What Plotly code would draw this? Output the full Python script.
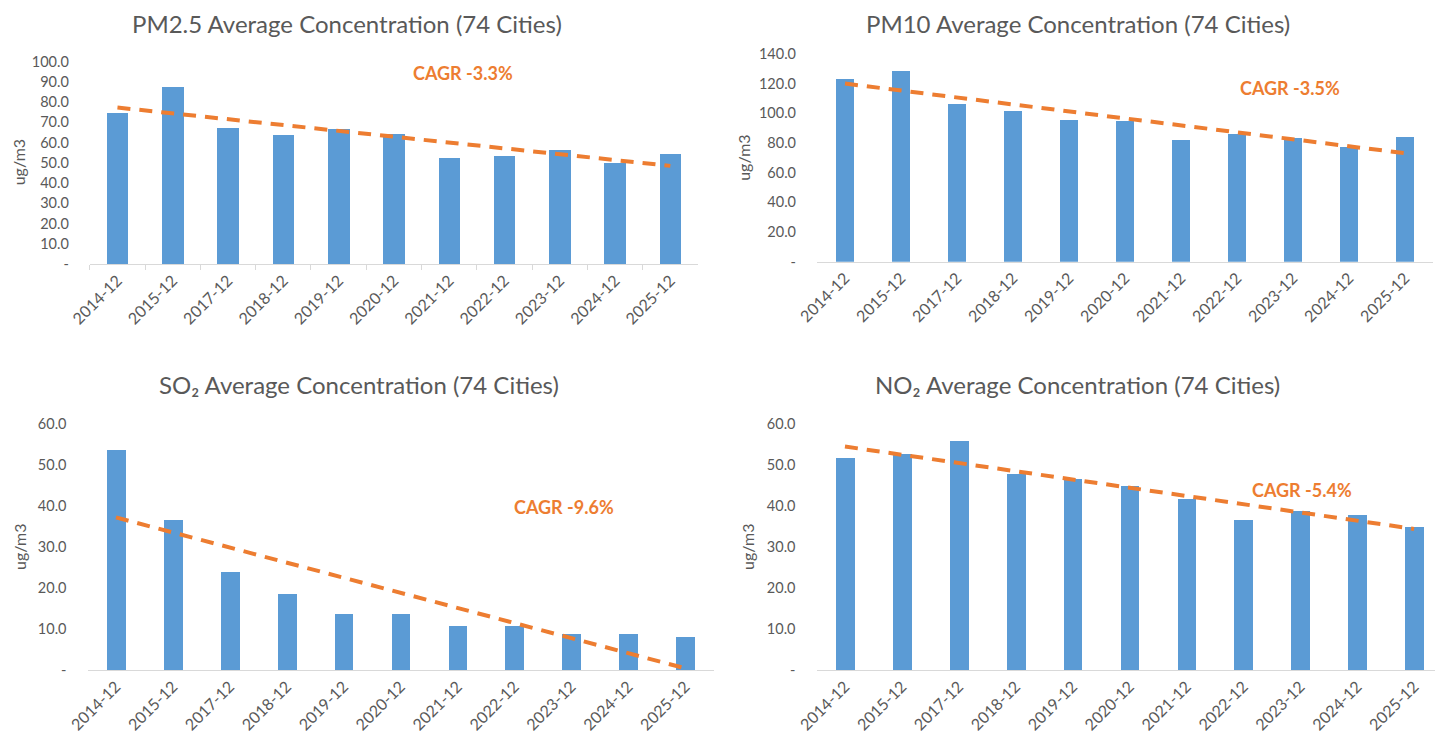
import numpy as np
import plotly.graph_objects as go

categories = ["2014-12", "2015-12", "2017-12", "2018-12", "2019-12", "2020-12",
              "2021-12", "2022-12", "2023-12", "2024-12", "2025-12"]

pm25 = [74.6, 87.6, 67.4, 63.8, 66.7, 64.6, 52.4, 53.7, 56.7, 50.2, 54.4]
pm10 = [123.0, 128.8, 106.5, 101.6, 95.8, 94.7, 81.9, 86.0, 83.1, 77.3, 83.9]
so2 = [53.7, 36.7, 23.9, 18.65, 13.6, 13.6, 10.8, 10.8, 8.7, 8.7, 7.95]
no2 = [51.6, 52.6, 55.9, 47.7, 46.6, 44.8, 41.7, 36.7, 38.8, 37.7, 34.95]

titles = ["PM2.5 Average Concentration (74 Cities)",
          "PM10 Average Concentration (74 Cities)",
          "SO₂ Average Concentration (74 Cities)",
          "NO₂ Average Concentration (74 Cities)"]
cagr_labels = ["CAGR -3.3%", "CAGR -3.5%", "CAGR -9.6%", "CAGR -5.4%"]
y_max = [100, 140, 60, 60]
y_step = [10, 20, 10, 10]
unit = "ug/m3"

OFF = 8  # page body margin
W, H = 1443 - OFF, 741 - OFF
BAR = "#5B9BD5"
TREND = "#ED7D31"
GREY = "#595959"
FONT = "Lato"


def px(x):
    return (x - OFF) / W


def py(y):
    return 1 - (y - OFF) / H


# layout geometry (screen pixels)
panels = [
    dict(x0=89.8, x1=698.0, ytop=61.7, ybot=264.0, bw=0.39, title=(347, 22), cagr=(463, 73), ytitle=13),
    dict(x0=817.0, x1=1433.0, ytop=54.0, ybot=261.7, bw=0.33, title=(1078, 15), cagr=(1290, 88), ytitle=744),
    dict(x0=87.5, x1=713.5, ytop=424.0, ybot=670.0, bw=0.33, title=(359, 384), cagr=(564, 507), ytitle=19),
    dict(x0=816.5, x1=1442.5, ytop=424.0, ybot=670.0, bw=0.33, title=(1077, 384), cagr=(1302, 490), ytitle=747),
]
series = [pm25, pm10, so2, no2]

fig = go.Figure()
annotations = []
idx = np.arange(len(categories))
for i, (p, vals) in enumerate(zip(panels, series)):
    n = "" if i == 0 else str(i + 1)
    xa, ya = "x" + n, "y" + n
    fig.add_trace(go.Bar(x=categories, y=vals, width=p["bw"], marker_color=BAR,
                         marker_line_width=0, xaxis=xa, yaxis=ya, showlegend=False))
    slope, icpt = np.polyfit(idx, vals, 1)
    trend = slope * idx + icpt
    fig.add_trace(go.Scatter(x=categories, y=trend, mode="lines",
                             line=dict(color=TREND, width=4, dash="13px,9px"),
                             xaxis=xa, yaxis=ya, showlegend=False))
    ticks = list(np.arange(0, y_max[i] + 0.001, y_step[i]))
    ticktext = ["-"] + [f"{t:.1f}" for t in ticks[1:]]
    fig.update_layout({
        "xaxis" + n: dict(domain=[px(p["x0"]), min(1.0, px(p["x1"]))], anchor=ya, type="category",
                          range=[-0.5, 10.5], showline=True, linecolor="#D9D9D9", linewidth=1,
                          ticks="outside" if i == 0 else "", tickson="boundaries",
                          ticklen=5, tickcolor="#D9D9D9", tickangle=-45, automargin=False,
                          tickfont=dict(family=FONT, size=16, color=GREY), showgrid=False,
                          fixedrange=True),
        "yaxis" + n: dict(domain=[py(p["ybot"]), py(p["ytop"])], anchor=xa,
                          range=[0, y_max[i]], tickvals=ticks, ticktext=ticktext,
                          showgrid=False, zeroline=False, showline=False, ticks="",
                          ticklabelstandoff=20, automargin=False,
                          tickfont=dict(family=FONT, size=14.5, color=GREY), fixedrange=True),
    })
    if i < 2:
        title_pos = dict(y=1.0, yanchor="top", borderpad=0)
    else:
        title_pos = dict(y=py(p["title"][1]), yanchor="middle")
    annotations.append(dict(text=titles[i], x=px(p["title"][0]), xref="paper", yref="paper",
                            xanchor="center", showarrow=False,
                            font=dict(family=FONT, size=24, color=GREY), **title_pos))
    annotations.append(dict(text=f"<b>{cagr_labels[i]}</b>", x=px(p["cagr"][0]), y=py(p["cagr"][1]),
                            xref="paper", yref="paper", xanchor="center", yanchor="middle",
                            showarrow=False, font=dict(family=FONT, size=18, color=TREND)))
    if i == 0:
        ut_pos = dict(x=0.0, xanchor="left", borderpad=0)
    else:
        ut_pos = dict(x=px(p["ytitle"]), xanchor="center")
    annotations.append(dict(text=unit, textangle=-90, y=py((p["ytop"] + p["ybot"]) / 2),
                            xref="paper", yref="paper", yanchor="middle",
                            showarrow=False, font=dict(family=FONT, size=16, color=GREY), **ut_pos))

fig.update_layout(width=W, height=H, margin=dict(l=0, r=0, t=0, b=0, autoexpand=False),
                  paper_bgcolor="white", plot_bgcolor="white",
                  annotations=annotations, bargap=0)
fig.write_html("out.html")
